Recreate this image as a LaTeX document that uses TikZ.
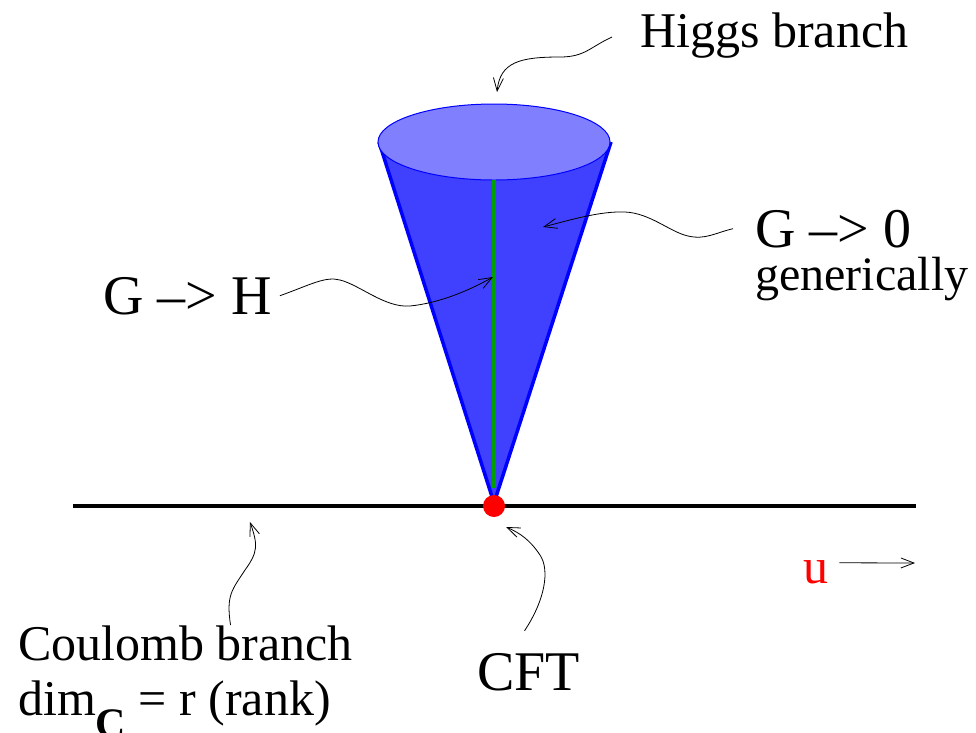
\documentclass[tikz,border=0pt]{standalone}
\usepackage{fontspec}
\setmainfont{Liberation Serif}
\usepackage{xcolor}
\usetikzlibrary{arrows.meta}

\definecolor{conefill}{RGB}{64,64,255}
\definecolor{capfill}{RGB}{128,128,255}
\definecolor{axisgreen}{RGB}{0,160,0}

\begin{document}
\begin{tikzpicture}[
    x=1pt, y=-1pt,
    big/.style={inner sep=0, anchor=base west, font=\fontsize{56}{60}\selectfont},
    txt/.style={inner sep=0, anchor=base west, font=\fontsize{50}{56}\selectfont},
    note/.style={line width=0.8pt, -{Straight Barb[length=13pt,width=10pt]}}
]
\useasboundingbox (0,0) rectangle (976,732);

% cone of the Higgs branch
\coordinate (apex) at (494,503);
\coordinate (capleft) at (379,142);
\coordinate (capright) at (611,142);
\fill[conefill] (capleft) -- (apex) -- (capright) -- cycle;
\draw[blue, line width=3.5pt] (capleft) -- (apex) -- (capright);
\draw[blue, fill=capfill, line width=1pt] (494,142) ellipse[x radius=116, y radius=38];
\draw[axisgreen, line width=3.5pt] (494,180) -- (494,488);

% Coulomb branch line and CFT point
\coordinate (lineleft) at (73,506);
\coordinate (lineright) at (916,506);
\draw[line width=3.5pt] (lineleft) -- (lineright);
\fill[red] (494,506) circle[radius=11];

% labels
\node[txt] (higgs) at (640,47) {Higgs branch};
\node[big] (gzero) at (755,247) {G --> 0};
\node[txt, font=\fontsize{48}{52}\selectfont] (generic) at (755,290) {generically};
\node[big] (gh) at (103,314) {G --> H};
\node[txt, text=red] (ulabel) at (803,583) {u};
\node[txt] (coulomb) at (18,660) {Coulomb branch};
\node[txt] (dimlabel) at (18,715) {dim\raisebox{-22pt}{\fontsize{42}{42}\selectfont\bfseries C} = r (rank)};
\node[big] (cft) at (477,690) {CFT};

% pointers
\coordinate (higgstip) at (497,92);
\coordinate (gzerotip) at (543,227);
\coordinate (ghtip) at (493,277);
\coordinate (coultip) at (250,522);
\coordinate (cfttip) at (506,527);
\coordinate (utip) at (915,563);

\draw[note] (higgs.west) ++(-28,2) .. controls (590,47) and (585,57) .. (560,57)
    .. controls (520,57) and (500,62) .. (higgstip);
\draw[note] (gzero.west) ++(-22,0) .. controls (715,233) and (705,240) .. (688,236)
    .. controls (670,232) and (650,213) .. (625,212)
    .. controls (600,211) and (570,220) .. (gzerotip);
\draw[note] (gh.east) ++(8,0) .. controls (310,285) and (325,276) .. (340,280)
    .. controls (360,285) and (385,308) .. (410,306)
    .. controls (440,303) and (470,290) .. (ghtip);
\draw[note] (coulomb.north) ++(45,0) .. controls (226,595) and (232,590) .. (245,570)
    .. controls (258,552) and (258,545) .. (coultip);
\draw[note] (cft.north) ++(-4,-22) .. controls (545,600) and (550,570) .. (540,555)
    .. controls (530,540) and (520,533) .. (cfttip);
\draw[note] (ulabel.east) ++(11,-9) -- (utip);
\end{tikzpicture}
\end{document}
